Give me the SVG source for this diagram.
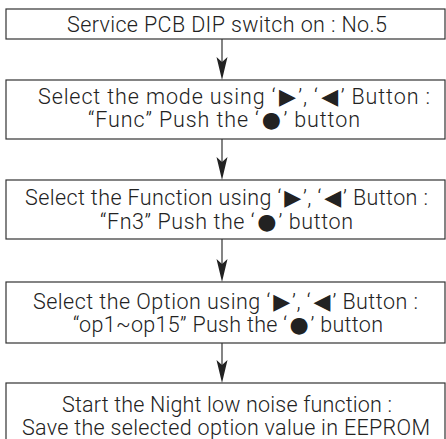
<svg xmlns="http://www.w3.org/2000/svg" width="446" height="439" viewBox="0 0 446 439">
<defs>
<style>
.box{fill:#fff;stroke:#333;stroke-width:1.2}
.t{font-family:Roboto,"Liberation Sans","DejaVu Sans",sans-serif;font-weight:300;font-size:21.5px;fill:#222}
.s{font-family:"DejaVu Sans",sans-serif;font-weight:400;font-size:22px}
.c{stroke:#333;stroke-width:1.2;fill:none}
.h{fill:#222;stroke:none}
</style>
</defs>
<rect width="446" height="439" fill="#fff"/>
<g id="n1"><rect class="box" x="6" y="9" width="439" height="30"/><text class="t" x="67" y="31.5" textLength="320" lengthAdjust="spacing">Service PCB DIP switch on : No.5</text></g>
<g id="n2"><rect class="box" x="6" y="80" width="439" height="59"/><text class="t" x="38" y="104" textLength="392" lengthAdjust="spacing">Select the mode using ‘<tspan class="s" dx="2.5">▶</tspan><tspan dx="1.5">’, ‘</tspan><tspan class="s" dx="2.5">◀</tspan><tspan dx="1.5">’ Button :</tspan></text><text class="t" x="88" y="127" textLength="272" lengthAdjust="spacing">“Func” Push the ‘<tspan class="s" dx="2">●</tspan><tspan dx="1.5">’ button</tspan></text></g>
<g id="n3"><rect class="box" x="6" y="180" width="439" height="59"/><text class="t" x="25" y="205" textLength="403" lengthAdjust="spacing">Select the Function using ‘<tspan class="s" dx="2.5">▶</tspan><tspan dx="1.5">’, ‘</tspan><tspan class="s" dx="2.5">◀</tspan><tspan dx="1.5">’ Button :</tspan></text><text class="t" x="100" y="228.5" textLength="253" lengthAdjust="spacing">“Fn3” Push the ‘<tspan class="s" dx="2">●</tspan><tspan dx="1.5">’ button</tspan></text></g>
<g id="n4"><rect class="box" x="6" y="282" width="439" height="61"/><text class="t" x="33" y="309" textLength="385" lengthAdjust="spacing">Select the Option using ‘<tspan class="s" dx="2.5">▶</tspan><tspan dx="1.5">’, ‘</tspan><tspan class="s" dx="2.5">◀</tspan><tspan dx="1.5">’ Button :</tspan></text><text class="t" x="73" y="332" textLength="310" lengthAdjust="spacing">“op1~op15” Push the ‘<tspan class="s" dx="2">●</tspan><tspan dx="1.5">’ button</tspan></text></g>
<g id="n5"><rect class="box" x="6" y="383" width="439" height="60"/><text class="t" x="62" y="411.5" textLength="330" lengthAdjust="spacing">Start the Night low noise function :</text><text class="t" x="22" y="434.5" textLength="408" lengthAdjust="spacing">Save the selected option value in EEPROM</text></g>
<g id="connectors">
<line class="c" x1="222" y1="39" x2="222" y2="62"/><path class="h" d="M222,80 L216.5,57 L222,62 L227.5,57 Z"/>
<line class="c" x1="222" y1="139" x2="222" y2="162"/><path class="h" d="M222,180 L216.5,157 L222,162 L227.5,157 Z"/>
<line class="c" x1="222" y1="239" x2="222" y2="264"/><path class="h" d="M222,282 L216.5,259 L222,264 L227.5,259 Z"/>
<line class="c" x1="222" y1="343" x2="222" y2="365"/><path class="h" d="M222,383 L216.5,360 L222,365 L227.5,360 Z"/>
</g>
</svg>
